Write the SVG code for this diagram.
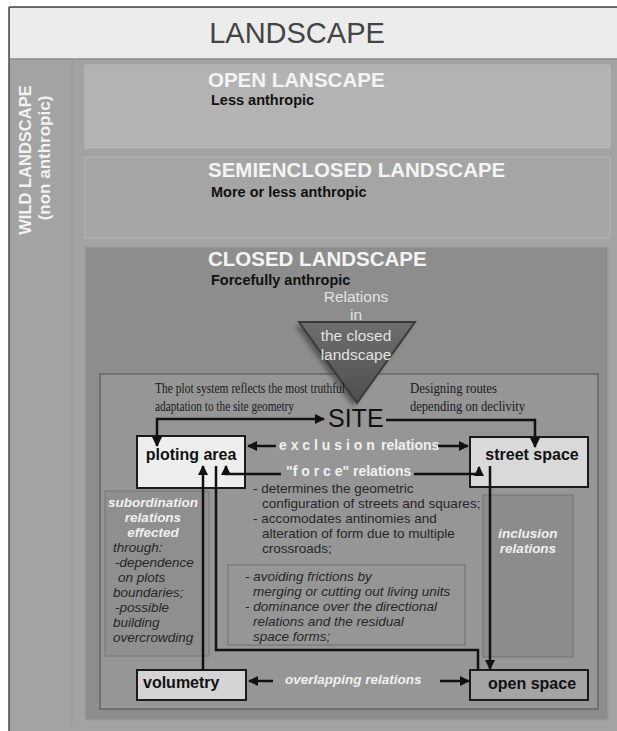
<svg xmlns="http://www.w3.org/2000/svg" width="617" height="731" viewBox="0 0 617 731">
<defs>
<style>
.sans{font-family:"Liberation Sans",Arial,sans-serif}
.lvl{font-family:"Liberation Sans",Arial,sans-serif;font-weight:bold;font-size:20.5px;fill:#f4f4f4}
.sub{font-family:"Liberation Sans",Arial,sans-serif;font-weight:bold;font-size:14.5px;fill:#111}
.box{stroke:#1a1a1a;stroke-width:2}
.lbl{font-family:"Liberation Sans",Arial,sans-serif;font-weight:bold;font-size:16px;fill:#111}
.rel{font-family:"Liberation Sans",Arial,sans-serif;font-weight:bold;font-size:14px;fill:#f0f0f0}
.reli{font-family:"Liberation Sans",Arial,sans-serif;font-weight:bold;font-style:italic;font-size:13.5px;fill:#f0f0f0}
.body{font-family:"Liberation Sans",Arial,sans-serif;font-size:13.5px;fill:#262626}
.bodyi{font-family:"Liberation Sans",Arial,sans-serif;font-style:italic;font-size:13.5px;fill:#262626}
.note{font-family:"Liberation Serif","Times New Roman",serif;font-size:15px;fill:#1a1a1a}
.tri{font-family:"Liberation Sans",Arial,sans-serif;font-size:15.5px;fill:#e2e2e2;text-anchor:middle}
.conn{fill:none;stroke:#111;stroke-width:2.5}
</style>
<marker id="ah" viewBox="0 0 10 10" refX="9" refY="5" markerWidth="4" markerHeight="4" orient="auto-start-reverse" markerUnits="strokeWidth">
<path d="M0,0 L10,5 L0,10 z" fill="#111"/>
</marker>
<linearGradient id="tg" x1="0" y1="0" x2="0" y2="1">
<stop offset="0" stop-color="#6e6e6e"/>
<stop offset="1" stop-color="#4e4e4e"/>
</linearGradient>
<filter id="blur" x="-20%" y="-20%" width="140%" height="140%">
<feGaussianBlur stdDeviation="2"/>
</filter>
</defs>

<rect x="0" y="0" width="617" height="731" fill="#ffffff"/>
<g id="frame">
<rect x="9" y="7" width="608" height="724" fill="#a3a3a3"/>
<rect x="10" y="8" width="607" height="51" fill="#ececec"/>
<line x1="10" y1="59" x2="617" y2="59" stroke="#8c8c8c" stroke-width="1.5"/>
<line x1="9" y1="7" x2="617" y2="7" stroke="#4a4a4a" stroke-width="1.5"/>
<line x1="9" y1="7" x2="9" y2="731" stroke="#4a4a4a" stroke-width="1.5"/>
<line x1="72" y1="60" x2="72" y2="725" stroke="#9a9a9a" stroke-width="1"/>
<text class="sans" x="297" y="43" font-size="29" fill="#444" text-anchor="middle">LANDSCAPE</text>
</g>

<g id="wild">
<text class="sans" font-weight="bold" font-size="16.5" fill="#f2f2f2" text-anchor="middle" transform="translate(31,160) rotate(-90)">WILD LANDSCAPE</text>
<text class="sans" font-weight="bold" font-size="17" fill="#f2f2f2" text-anchor="middle" transform="translate(50,158) rotate(-90)">(non anthropic)</text>
</g>

<g id="open-landscape">
<rect x="85" y="65" width="525" height="83" fill="#b3b3b3" stroke="#bababa"/>
<text class="lvl" x="208" y="87">OPEN LANSCAPE</text>
<text class="sub" x="211" y="105">Less anthropic</text>
</g>

<g id="semienclosed-landscape">
<rect x="85" y="157" width="525" height="81" fill="#a5a5a5" stroke="#b6b6b6"/>
<text class="lvl" x="208" y="177">SEMIENCLOSED LANDSCAPE</text>
<text class="sub" x="211" y="197">More or less anthropic</text>
</g>

<g id="closed-landscape">
<rect x="85" y="247" width="523" height="473" fill="#8d8d8d" stroke="#9c9c9c"/>
<text class="lvl" x="208" y="266">CLOSED LANDSCAPE</text>
<text class="sub" x="211" y="285">Forcefully anthropic</text>
</g>

<g id="relations-frame">
<rect x="100" y="374" width="498" height="335" fill="#969696" stroke="#666" stroke-width="1.5"/>
</g>

<g id="relations-triangle">
<polygon points="295,326 411,326 353,407" fill="#333" opacity="0.55" filter="url(#blur)"/>
<polygon points="299,322 415,322 357,403" fill="url(#tg)" stroke="#3a3a3a" stroke-width="2"/>
<text class="tri" x="356" y="302">Relations</text>
<text class="tri" x="356" y="320">in</text>
<text class="tri" x="356" y="341">the closed</text>
<text class="tri" x="356" y="360">landscape</text>
</g>

<g id="site">
<text class="sans" x="328" y="427" font-size="25" fill="#111">SITE</text>
</g>

<g id="notes">
<text class="note" x="155" y="393" textLength="190" lengthAdjust="spacingAndGlyphs">The plot system reflects the most truthful</text>
<text class="note" x="155" y="411" textLength="139" lengthAdjust="spacingAndGlyphs">adaptation to the site geometry</text>
<text class="note" x="410" y="393" textLength="87" lengthAdjust="spacingAndGlyphs">Designing routes</text>
<text class="note" x="410" y="411" textLength="115" lengthAdjust="spacingAndGlyphs">depending on declivity</text>
</g>

<g id="subordination">
<rect x="105" y="491" width="104" height="165" fill="#8f8f8f" stroke="#777" stroke-width="1"/>
<text class="reli" x="153" y="507" text-anchor="middle">subordination</text>
<text class="reli" x="153" y="522" text-anchor="middle">relations</text>
<text class="reli" x="153" y="537" text-anchor="middle">effected</text>
<text class="bodyi" x="113" y="552">through:</text>
<text class="bodyi" x="115" y="567">-dependence</text>
<text class="bodyi" x="118" y="582">on plots</text>
<text class="bodyi" x="113" y="597">boundaries;</text>
<text class="bodyi" x="115" y="612">-possible</text>
<text class="bodyi" x="113" y="627">building</text>
<text class="bodyi" x="113" y="642">overcrowding</text>
</g>

<g id="force-effects">
<text class="body" x="253" y="493">- determines the geometric</text>
<text class="body" x="262" y="508">configuration of streets and squares;</text>
<text class="body" x="253" y="523">- accomodates antinomies and</text>
<text class="body" x="262" y="538">alteration of form due to multiple</text>
<text class="body" x="262" y="553">crossroads;</text>
</g>

<g id="residual-effects">
<rect x="228" y="565" width="237" height="80" fill="none" stroke="#6e6e6e" stroke-width="1"/>
<text class="bodyi" x="245" y="581">- avoiding frictions by</text>
<text class="bodyi" x="253" y="596">merging or cutting out living units</text>
<text class="bodyi" x="245" y="611">- dominance over the directional</text>
<text class="bodyi" x="253" y="626">relations and the residual</text>
<text class="bodyi" x="253" y="641">space forms;</text>
</g>

<g id="inclusion">
<rect x="483" y="495" width="90" height="162" fill="#8c8c8c" stroke="#757575" stroke-width="1"/>
<text class="reli" x="528" y="538" text-anchor="middle">inclusion</text>
<text class="reli" x="528" y="553" text-anchor="middle">relations</text>
</g>

<g id="ploting-area">
<rect class="box" x="137" y="436" width="108" height="52" fill="#eeeeee"/>
<text class="lbl" x="191" y="460" text-anchor="middle">ploting area</text>
</g>

<g id="street-space">
<rect class="box" x="470" y="437" width="118" height="50" fill="#d9d9d9"/>
<text class="lbl" x="532" y="460" text-anchor="middle">street space</text>
</g>

<g id="volumetry">
<rect class="box" x="137" y="670" width="109" height="30" fill="#d4d4d4"/>
<text class="lbl" x="143" y="688">volumetry</text>
</g>

<g id="open-space">
<rect class="box" x="470" y="670" width="118" height="30" fill="#a4a4a4"/>
<text class="lbl" x="488" y="689">open space</text>
</g>

<g id="relation-labels">
<text class="rel" x="279" y="450">e x c l u s i o n</text>
<text class="rel" x="381" y="450">relations</text>
<text class="rel" x="286" y="476" font-size="12.5">"f o r c e"</text>
<text class="rel" x="353" y="476" font-size="13.5">relations</text>
<text class="reli" x="285" y="684">overlapping relations</text>
</g>

<g id="connectors">
<path class="conn" d="M157,446 V419 H324" marker-start="url(#ah)" marker-end="url(#ah)"/>
<path class="conn" d="M386,420 H535 V447" marker-end="url(#ah)"/>
<path class="conn" d="M276,446 H248" marker-end="url(#ah)"/>
<path class="conn" d="M438,446 H468" marker-end="url(#ah)"/>
<path class="conn" d="M281,474 H226 V466" marker-end="url(#ah)"/>
<path class="conn" d="M414,474 H479 V467" marker-end="url(#ah)"/>
<path class="conn" d="M203,670 V466" marker-end="url(#ah)"/>
<path class="conn" d="M216,466 V650 H478 V670"/>
<path class="conn" d="M490,466 V669" marker-end="url(#ah)"/>
<path class="conn" d="M273,681 H249" marker-end="url(#ah)"/>
<path class="conn" d="M440,681 H469" marker-end="url(#ah)"/>
</g>
</svg>
